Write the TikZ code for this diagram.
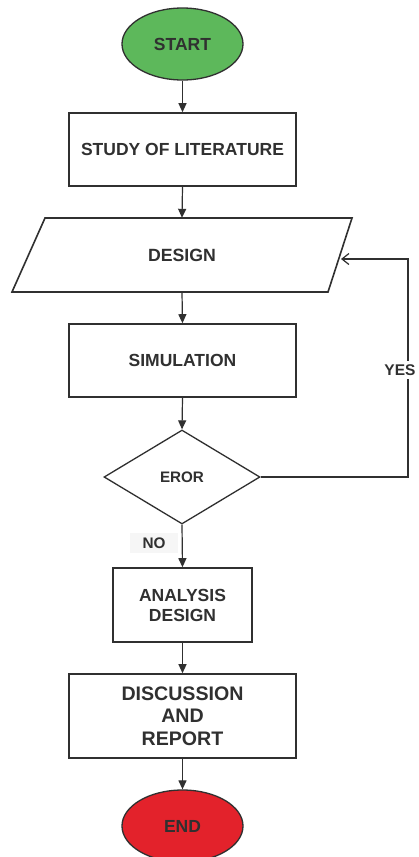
\documentclass[tikz,border=0pt]{standalone}
\usepackage{fontspec}
\setmainfont{Liberation Sans}
\usetikzlibrary{arrows.meta,shapes.geometric}
\definecolor{ink}{HTML}{303030}
\definecolor{startgreen}{HTML}{5DB85B}
\definecolor{endred}{HTML}{E3222B}
\definecolor{nobg}{HTML}{F6F6F6}
\begin{document}
\begin{tikzpicture}[x=1pt,y=-1pt,
  box/.style={draw=ink,line width=1.6pt,fill=white,rectangle,inner sep=0pt,text=ink,
    font=\bfseries\fontsize{17.5}{20}\selectfont,align=center},
  term/.style={draw=ink,line width=1.3pt,ellipse,inner sep=0pt,text=ink,
    minimum width=121pt,minimum height=72pt,font=\bfseries\fontsize{17.5}{20}\selectfont},
  lbl/.style={inner sep=0pt,text=ink,font=\bfseries\fontsize{15.3}{18}\selectfont},
  arr/.style={draw=ink,line width=1.2pt,-{Triangle[length=9pt,width=8pt]}},
  loop/.style={draw=ink,line width=1.3pt,-{Straight Barb[length=7pt,width=11pt,line width=1.2pt]}}]
\useasboundingbox (0,0) rectangle (418,857);
\fill[white] (0,0) rectangle (418,857);

\node[term,fill=startgreen] (start) at (182.5,44) {START};
\node[box,minimum width=227pt,minimum height=73pt] (study) at (182.5,149.5) {STUDY OF LITERATURE};

\draw[ink,line width=1.6pt,fill=white] (45,218) -- (352,218) -- (328,292) -- (12,292) -- cycle;
\node[inner sep=0pt,text=ink,font=\bfseries\fontsize{17.7}{20}\selectfont,minimum width=280pt,minimum height=74pt] (design) at (182,255) {DESIGN};

\node[box,minimum width=227pt,minimum height=73pt] (sim) at (182.5,360.5) {SIMULATION};
\node[draw=ink,line width=1.3pt,fill=white,diamond,inner sep=0pt,text=ink,
  font=\bfseries\fontsize{15.2}{18}\selectfont,minimum width=156pt,minimum height=94pt] (err) at (182,477) {EROR};
\node[box,minimum width=139pt,minimum height=74pt] (ana) at (182.5,605) {ANALYSIS\\DESIGN};
\node[box,minimum width=227pt,minimum height=84pt,font=\bfseries\fontsize{19.6}{22.5}\selectfont] (disc) at (182.5,716) {DISCUSSION\\AND\\REPORT};
\node[term,fill=endred] (end) at (182.5,826) {END};

\draw[arr] (start.south) -- (study.north);
\draw[arr] (study.south) -- (design.north);
\draw[arr] (design.south) -- (sim.north);
\draw[arr] (sim.south) -- (err.north);
\draw[arr] (err.south) -- (ana.north);
\draw[arr] (ana.south) -- (disc.north);
\draw[arr] (disc.south) -- (end.north);

\coordinate (c1) at (408,477);
\coordinate (c2) at (408,259);
\coordinate (dr) at (341,259);
\draw[loop] (err.east) -- (c1) -- (c2) -- (dr);

\node[lbl,fill=nobg,minimum width=48pt,minimum height=20pt] (no) at (154,543) {NO};
\node[lbl,fill=white,minimum width=34pt,minimum height=18pt,font=\bfseries\fontsize{15.5}{18}\selectfont] (yes) at (400,370) {YES};
\end{tikzpicture}
\end{document}
